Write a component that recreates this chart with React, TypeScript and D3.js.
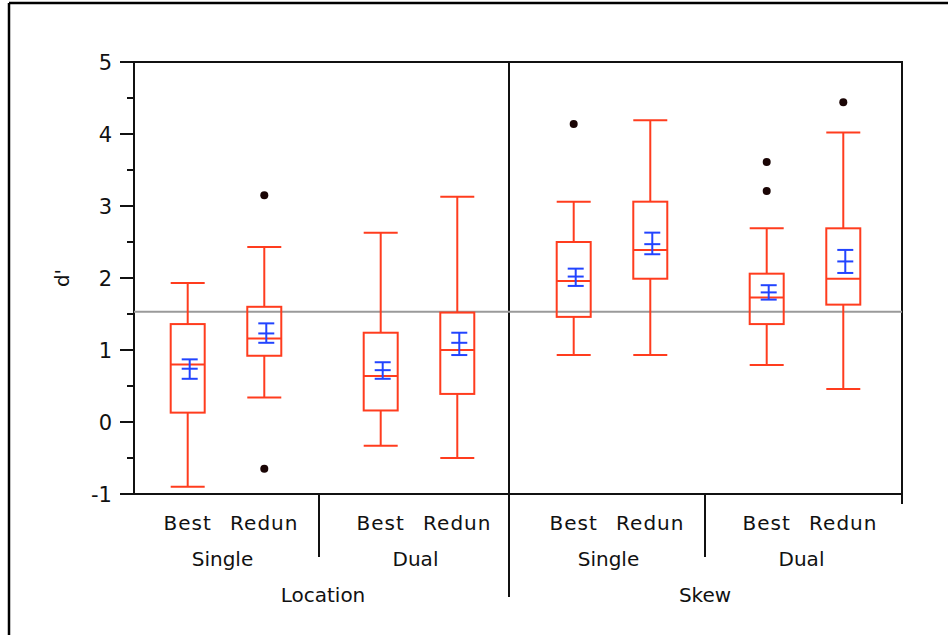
import React, { useRef, useEffect } from "react";
import * as d3 from "d3";

// one entry per box, in display order
const factors = ["Location", "Location", "Location", "Location", "Skew", "Skew", "Skew", "Skew"];
const modes = ["Single", "Single", "Dual", "Dual", "Single", "Single", "Dual", "Dual"];
const methods = ["Best", "Redun", "Best", "Redun", "Best", "Redun", "Best", "Redun"];

const whiskerHigh = [1.93, 2.43, 2.63, 3.13, 3.06, 4.19, 2.69, 4.02];
const q3 = [1.36, 1.6, 1.24, 1.52, 2.5, 3.06, 2.06, 2.69];
const median = [0.8, 1.16, 0.64, 1.0, 1.96, 2.39, 1.73, 1.99];
const q1 = [0.13, 0.92, 0.16, 0.39, 1.46, 1.99, 1.36, 1.63];
const whiskerLow = [-0.9, 0.34, -0.33, -0.5, 0.93, 0.93, 0.79, 0.46];
const means = [0.74, 1.23, 0.72, 1.1, 2.02, 2.47, 1.8, 2.23];
const meanUpper = [0.87, 1.37, 0.83, 1.24, 2.13, 2.63, 1.9, 2.39];
const meanLower = [0.6, 1.1, 0.6, 0.93, 1.89, 2.33, 1.7, 2.07];
const outliers = [[], [3.15, -0.65], [], [], [4.14], [], [3.61, 3.21], [4.44]];
const grandMean = 1.53;

const yTicks = [-1, 0, 1, 2, 3, 4, 5];

const RED = "#ff3c1e";
const BLUE = "#2244ff";
const FONT = "DejaVu Sans, sans-serif";

export default function App() {
  const ref = useRef<SVGSVGElement>(null);

  useEffect(() => {
    const width = 948;
    const height = 635;
    const plot = { left: 134, top: 62, right: 902, bottom: 494 };

    const svg = d3.select(ref.current);
    svg.selectAll("*").remove();

    const data = methods.map((m, i) => ({
      key: factors[i] + "-" + modes[i],
      factor: factors[i],
      mode: modes[i],
      method: m,
      hi: whiskerHigh[i],
      q3: q3[i],
      med: median[i],
      q1: q1[i],
      lo: whiskerLow[i],
      mean: means[i],
      mHi: meanUpper[i],
      mLo: meanLower[i],
      out: outliers[i],
    }));
    const groupKeys = Array.from(new Set(data.map((d) => d.key)));

    const y = d3.scaleLinear().domain([-1, 5]).range([plot.bottom, plot.top]);
    const xGroup = d3.scaleBand().domain(groupKeys).range([126, 898]);
    const xInner = d3
      .scalePoint()
      .domain(["Best", "Redun"])
      .range([0, xGroup.bandwidth()])
      .padding(0.76)
      .align(0.53);
    const cx = (d) => xGroup(d.key) + xInner(d.method);

    // outer frame (top and left only)
    svg.append("line").attr("x1", 9).attr("x2", width).attr("y1", 3).attr("y2", 3)
      .attr("stroke", "#000").attr("stroke-width", 2.5);
    svg.append("line").attr("x1", 9).attr("x2", 9).attr("y1", 3).attr("y2", height)
      .attr("stroke", "#000").attr("stroke-width", 2.5);

    const ax = svg.append("g").attr("stroke", "#111").attr("stroke-width", 2).attr("fill", "none");
    // plot box
    ax.append("line").attr("x1", 120).attr("x2", plot.right + 1).attr("y1", plot.top).attr("y2", plot.top);
    ax.append("line").attr("x1", plot.left).attr("x2", plot.left).attr("y1", plot.top).attr("y2", plot.bottom);
    ax.append("line").attr("x1", plot.right).attr("x2", plot.right).attr("y1", plot.top).attr("y2", plot.bottom + 10);
    ax.append("line").attr("x1", 120).attr("x2", plot.right).attr("y1", plot.bottom).attr("y2", plot.bottom);

    // y ticks
    ax.selectAll("line.major").data(yTicks).join("line").attr("class", "major")
      .attr("x1", 120).attr("x2", plot.left).attr("y1", (d) => y(d)).attr("y2", (d) => y(d));
    ax.selectAll("line.minor").data(yTicks.slice(0, -1).map((d) => d + 0.5)).join("line").attr("class", "minor")
      .attr("x1", plot.left - 7).attr("x2", plot.left).attr("y1", (d) => y(d)).attr("y2", (d) => y(d));
    svg.append("g").selectAll("text").data(yTicks).join("text")
      .attr("x", 112).attr("y", (d) => y(d) + 8)
      .attr("text-anchor", "end").attr("font-family", FONT).attr("font-size", 21).attr("fill", "#111")
      .text((d) => d);

    svg.append("text")
      .attr("transform", "translate(69,278) rotate(-90)")
      .attr("text-anchor", "middle").attr("font-family", FONT).attr("font-size", 20).attr("fill", "#111")
      .text("d'");

    // dividers
    const subDiv = [groupKeys[1], groupKeys[3]].map((k) => xGroup(k));
    ax.selectAll("line.sub").data(subDiv).join("line").attr("class", "sub")
      .attr("x1", (d) => d).attr("x2", (d) => d).attr("y1", plot.bottom).attr("y2", plot.bottom + 63);
    const mainDiv = xGroup(groupKeys[2]) - 3;
    ax.append("line").attr("x1", mainDiv).attr("x2", mainDiv).attr("y1", plot.top).attr("y2", 597);

    // grand mean reference line
    svg.append("line").attr("x1", plot.left).attr("x2", plot.right).attr("y1", y(grandMean)).attr("y2", y(grandMean))
      .attr("stroke", "#9a9a9a").attr("stroke-width", 2);

    // boxes
    const half = 17;
    const box = svg.append("g").attr("stroke", RED).attr("stroke-width", 2).attr("fill", "none");
    const g = box.selectAll("g").data(data).join("g");
    g.append("line").attr("x1", cx).attr("x2", cx).attr("y1", (d) => y(d.hi)).attr("y2", (d) => y(d.q3));
    g.append("line").attr("x1", cx).attr("x2", cx).attr("y1", (d) => y(d.q1)).attr("y2", (d) => y(d.lo));
    g.append("line").attr("x1", (d) => cx(d) - half).attr("x2", (d) => cx(d) + half)
      .attr("y1", (d) => y(d.hi)).attr("y2", (d) => y(d.hi));
    g.append("line").attr("x1", (d) => cx(d) - half).attr("x2", (d) => cx(d) + half)
      .attr("y1", (d) => y(d.lo)).attr("y2", (d) => y(d.lo));
    g.append("rect").attr("x", (d) => cx(d) - half).attr("width", half * 2)
      .attr("y", (d) => y(d.q3)).attr("height", (d) => y(d.q1) - y(d.q3));
    g.append("line").attr("x1", (d) => cx(d) - half).attr("x2", (d) => cx(d) + half)
      .attr("y1", (d) => y(d.med)).attr("y2", (d) => y(d.med));

    // mean with error bars
    const mb = svg.append("g").attr("stroke", BLUE).attr("stroke-width", 2);
    const mg = mb.selectAll("g").data(data).join("g");
    const mx = (d) => cx(d) + 2;
    mg.append("line").attr("x1", mx).attr("x2", mx).attr("y1", (d) => y(d.mHi)).attr("y2", (d) => y(d.mLo));
    ["mHi", "mean", "mLo"].forEach((k) => {
      mg.append("line").attr("x1", (d) => mx(d) - 8).attr("x2", (d) => mx(d) + 8)
        .attr("y1", (d) => y(d[k])).attr("y2", (d) => y(d[k]));
    });

    // outliers
    svg.append("g").selectAll("circle")
      .data(data.flatMap((d) => d.out.map((v) => ({ x: cx(d), v }))))
      .join("circle").attr("cx", (d) => d.x).attr("cy", (d) => y(d.v)).attr("r", 4).attr("fill", "#1a0505");

    // x labels
    const lab = svg.append("g").attr("font-family", FONT).attr("fill", "#111").attr("text-anchor", "middle");
    lab.selectAll("text.m").data(data).join("text").attr("class", "m")
      .attr("x", cx).attr("y", 530).attr("font-size", 20).attr("letter-spacing", 1)
      .text((d) => d.method);
    lab.selectAll("text.g").data(groupKeys).join("text").attr("class", "g")
      .attr("x", (k) => xGroup(k) + xGroup.bandwidth() / 2).attr("y", 566).attr("font-size", 20)
      .text((k) => k.split("-")[1]);
    const factorNames = Array.from(new Set(factors));
    lab.selectAll("text.f").data(factorNames).join("text").attr("class", "f")
      .attr("x", (f) => {
        const ks = groupKeys.filter((k) => k.startsWith(f));
        const a = Math.max(plot.left, xGroup(ks[0]));
        const b = Math.min(plot.right, xGroup(ks[ks.length - 1]) + xGroup.bandwidth());
        return (a + b) / 2;
      })
      .attr("y", 602).attr("font-size", 20)
      .text((f) => f);
  }, []);

  return (
    <svg
      ref={ref}
      width={948}
      height={635}
      style={{ position: "absolute", left: 0, top: 0, background: "#fff" }}
    />
  );
}
